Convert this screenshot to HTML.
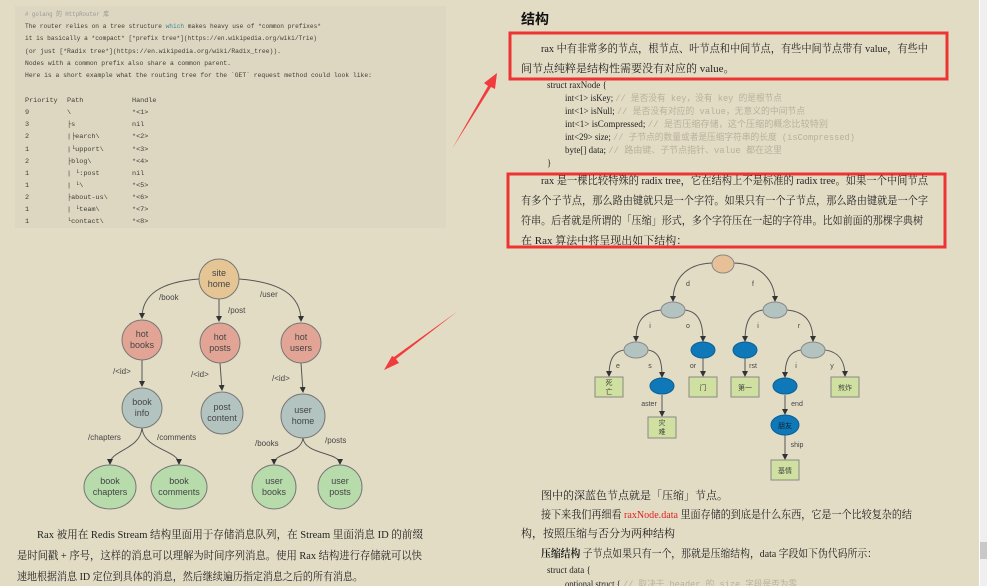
<!DOCTYPE html>
<html><head><meta charset="utf-8"><style>
body{margin:0;width:987px;height:586px;overflow:hidden;background:#e3dcc5;}
svg{display:block}
.m{font-family:"Liberation Mono","Noto Sans CJK SC",monospace;font-size:6.8px;fill:#3e3e38}
.s{font-family:"Liberation Serif","Noto Serif CJK SC",serif;font-size:11px;fill:#222}
.c{font-family:"Liberation Serif","Noto Serif CJK SC",serif;font-size:9px;fill:#222}
.g{font-family:"Liberation Mono","Noto Sans CJK SC",monospace;font-size:9px;fill:#b8b09a}
.n{font-family:"Liberation Sans","Noto Sans CJK SC",sans-serif;font-size:9px;fill:#444;text-anchor:middle}
.l{font-family:"Liberation Sans","Noto Sans CJK SC",sans-serif;font-size:8px;fill:#444}
.t{font-family:"Liberation Sans","Noto Sans CJK SC",sans-serif;font-size:7px;fill:#444}
</style></head><body>
<svg width="987" height="586" viewBox="0 0 987 586" xmlns="http://www.w3.org/2000/svg">
<defs><marker id="a" markerWidth="6" markerHeight="6" refX="5" refY="3" orient="auto"><path d="M0,0L6,3L0,6z" fill="#333"/></marker></defs>
<rect x="15" y="6" width="431" height="222" fill="#ddd6c0"/>
<g class="m">
<text x="25" y="16" fill="#999" textLength="84" lengthAdjust="spacingAndGlyphs">#  golang 的 HttpRouter 库</text>
<text x="25" y="28" textLength="296" lengthAdjust="spacingAndGlyphs">The router relies on a tree structure <tspan fill="#3a8a9a">which</tspan> makes heavy use of *common prefixes*</text>
<text x="25" y="40" textLength="292" lengthAdjust="spacingAndGlyphs">it is basically a *compact* [*prefix tree*](https://en.wikipedia.org/wiki/Trie)</text>
<text x="25" y="53" textLength="256" lengthAdjust="spacingAndGlyphs">(or just [*Radix tree*](https://en.wikipedia.org/wiki/Radix_tree)).</text>
<text x="25" y="65" textLength="206" lengthAdjust="spacingAndGlyphs">Nodes with a common prefix also share a common parent.</text>
<text x="25" y="77" textLength="347" lengthAdjust="spacingAndGlyphs">Here is a short example what the routing tree for the `GET` request method could look like:</text>
<text x="25" y="102">Priority</text><text x="67" y="102">Path</text><text x="132" y="102">Handle</text>
<text x="25" y="114">9</text><text x="67" y="114">\</text><text x="132" y="114">*&lt;1&gt;</text>
<text x="25" y="126">3</text><text x="67" y="126">├s</text><text x="132" y="126">nil</text>
<text x="25" y="138">2</text><text x="67" y="138">|├earch\</text><text x="132" y="138">*&lt;2&gt;</text>
<text x="25" y="151">1</text><text x="67" y="151">|└upport\</text><text x="132" y="151">*&lt;3&gt;</text>
<text x="25" y="163">2</text><text x="67" y="163">├blog\</text><text x="132" y="163">*&lt;4&gt;</text>
<text x="25" y="175">1</text><text x="67" y="175">|    └:post</text><text x="132" y="175">nil</text>
<text x="25" y="187">1</text><text x="67" y="187">|         └\</text><text x="132" y="187">*&lt;5&gt;</text>
<text x="25" y="199">2</text><text x="67" y="199">├about-us\</text><text x="132" y="199">*&lt;6&gt;</text>
<text x="25" y="211">1</text><text x="67" y="211">|        └team\</text><text x="132" y="211">*&lt;7&gt;</text>
<text x="25" y="223">1</text><text x="67" y="223">└contact\</text><text x="132" y="223">*&lt;8&gt;</text>
</g>
<!-- left tree -->
<g fill="none" stroke="#555" stroke-width="1" marker-end="url(#a)">
<path d="M199,279 C160,282 142,295 142,318"/>
<path d="M219,299 L219,321"/>
<path d="M239,279 C280,282 301,295 301,321"/>
<path d="M142,360 L142,386"/>
<path d="M220,363 L222,390"/>
<path d="M301,363 L303,392"/>
<path d="M142,428 C140,450 110,450 110,464"/>
<path d="M142,428 C144,450 179,450 179,464"/>
<path d="M303,438 C301,455 274,452 274,464"/>
<path d="M303,438 C305,455 340,452 340,464"/>
</g>
<g stroke="#777" stroke-width="1">
<circle cx="219" cy="279" r="20" fill="#e6c594"/>
<circle cx="142" cy="340" r="20" fill="#e2a595"/>
<circle cx="220" cy="343" r="20" fill="#e2a595"/>
<circle cx="301" cy="343" r="20" fill="#e2a595"/>
<circle cx="142" cy="408" r="20" fill="#b3c3c0"/>
<circle cx="222" cy="413" r="21" fill="#b3c3c0"/>
<circle cx="303" cy="416" r="22" fill="#b3c3c0"/>
<ellipse cx="110" cy="487" rx="26" ry="22" fill="#b7dbab"/>
<ellipse cx="179" cy="487" rx="28" ry="22" fill="#b7dbab"/>
<ellipse cx="274" cy="487" rx="22" ry="22" fill="#b7dbab"/>
<ellipse cx="340" cy="487" rx="22" ry="22" fill="#b7dbab"/>
</g>
<g class="n">
<text x="219" y="276">site</text><text x="219" y="287">home</text>
<text x="142" y="337">hot</text><text x="142" y="348">books</text>
<text x="220" y="340">hot</text><text x="220" y="351">posts</text>
<text x="301" y="340">hot</text><text x="301" y="351">users</text>
<text x="142" y="405">book</text><text x="142" y="416">info</text>
<text x="222" y="410">post</text><text x="222" y="421">content</text>
<text x="303" y="413">user</text><text x="303" y="424">home</text>
<text x="110" y="484">book</text><text x="110" y="495">chapters</text>
<text x="179" y="484">book</text><text x="179" y="495">comments</text>
<text x="274" y="484">user</text><text x="274" y="495">books</text>
<text x="340" y="484">user</text><text x="340" y="495">posts</text>
</g>
<g class="l">
<text x="159" y="300">/book</text><text x="228" y="313">/post</text><text x="260" y="297">/user</text>
<text x="113" y="374">/&lt;id&gt;</text><text x="191" y="377">/&lt;id&gt;</text><text x="272" y="381">/&lt;id&gt;</text>
<text x="88" y="440">/chapters</text><text x="157" y="440">/comments</text>
<text x="255" y="446">/books</text><text x="325" y="443">/posts</text>
</g>
<!-- red arrows -->
<path d="M452,149 L488,86 L484,83 L497,73 L495,89 L491,87 Z" fill="#f03c3c"/>
<path d="M458,311 L396,359 L399,363 L384,370 L392,356 L394,357 Z" fill="#f03c3c"/>
<!-- right text -->
<text x="521" y="24" style="font-family:'Liberation Sans','Noto Sans CJK SC',sans-serif;font-size:14px;font-weight:bold" fill="#111">结构</text>
<rect x="510" y="33" width="437" height="46" fill="none" stroke="#ee3333" stroke-width="3"/>
<text class="s" x="541" y="52" textLength="387" lengthAdjust="spacingAndGlyphs">rax 中有非常多的节点，根节点、叶节点和中间节点，有些中间节点带有 value，有些中</text>
<text class="s" x="521" y="72">间节点纯粹是结构性需要没有对应的 value。</text>
<text class="c" x="547" y="88">struct raxNode {</text>
<text class="c" x="565" y="101" textLength="217" lengthAdjust="spacingAndGlyphs">int&lt;1&gt; isKey;   <tspan class="g">// 是否没有 key，没有 key 的是根节点</tspan></text>
<text class="c" x="565" y="114" textLength="240" lengthAdjust="spacingAndGlyphs">int&lt;1&gt; isNull;   <tspan class="g">// 是否没有对应的 value，无意义的中间节点</tspan></text>
<text class="c" x="565" y="127" textLength="263" lengthAdjust="spacingAndGlyphs">int&lt;1&gt; isCompressed;    <tspan class="g">// 是否压缩存储，这个压缩的概念比较特别</tspan></text>
<text class="c" x="565" y="140" textLength="290" lengthAdjust="spacingAndGlyphs">int&lt;29&gt; size;    <tspan class="g">// 子节点的数量或者是压缩字符串的长度 (isCompressed)</tspan></text>
<text class="c" x="565" y="153" textLength="217" lengthAdjust="spacingAndGlyphs">byte[] data;    <tspan class="g">// 路由键、子节点指针、value 都在这里</tspan></text>
<text class="c" x="547" y="166">}</text>
<rect x="508" y="174" width="437" height="73" fill="none" stroke="#ee3333" stroke-width="3"/>
<text class="s" x="541" y="184" textLength="387" lengthAdjust="spacingAndGlyphs">rax 是一棵比较特殊的 radix tree，它在结构上不是标准的 radix tree。如果一个中间节点</text>
<text class="s" x="521" y="204" textLength="407" lengthAdjust="spacingAndGlyphs">有多个子节点，那么路由键就只是一个字符。如果只有一个子节点，那么路由键就是一个字</text>
<text class="s" x="521" y="224" textLength="402" lengthAdjust="spacingAndGlyphs">符串。后者就是所谓的「压缩」形式，多个字符压在一起的字符串。比如前面的那棵字典树</text>
<text class="s" x="521" y="244">在 Rax 算法中将呈现出如下结构：</text>
<!-- right tree -->
<g fill="none" stroke="#555" stroke-width="1" marker-end="url(#a)">
<path d="M712,263 C685,264 673,280 673,301"/>
<path d="M734,263 C760,264 775,280 775,301"/>
<path d="M661,310 C640,312 636,325 636,341"/>
<path d="M685,310 C700,312 703,325 703,341"/>
<path d="M763,310 C748,312 745,325 745,341"/>
<path d="M787,310 C808,312 813,325 813,341"/>
<path d="M624,350 C612,352 609,362 609,376"/>
<path d="M648,350 C660,352 662,362 662,377"/>
<path d="M703,358 L703,376"/>
<path d="M745,358 L745,376"/>
<path d="M801,350 C788,352 785,362 785,377"/>
<path d="M825,350 C840,352 845,362 845,376"/>
<path d="M662,395 L662,416"/>
<path d="M785,395 L785,414"/>
<path d="M785,435 L785,459"/>
</g>
<g stroke="#888" stroke-width="1">
<ellipse cx="723" cy="264" rx="11" ry="9" fill="#e8c097"/>
<ellipse cx="673" cy="310" rx="12" ry="8" fill="#b3c3c0"/>
<ellipse cx="775" cy="310" rx="12" ry="8" fill="#b3c3c0"/>
<ellipse cx="636" cy="350" rx="12" ry="8" fill="#b3c3c0"/>
<ellipse cx="813" cy="350" rx="12" ry="8" fill="#b3c3c0"/>
<rect x="595" y="377" width="28" height="20" fill="#cfe0a0"/>
<rect x="648" y="417" width="28" height="21" fill="#cfe0a0"/>
<rect x="689" y="377" width="28" height="20" fill="#cfe0a0"/>
<rect x="731" y="377" width="28" height="20" fill="#cfe0a0"/>
<rect x="831" y="377" width="28" height="20" fill="#cfe0a0"/>
<rect x="771" y="460" width="28" height="20" fill="#cfe0a0"/>
</g>
<g fill="#0f78b8" stroke="#0a5f95">
<ellipse cx="703" cy="350" rx="12" ry="8"/>
<ellipse cx="745" cy="350" rx="12" ry="8"/>
<ellipse cx="662" cy="386" rx="12" ry="8"/>
<ellipse cx="785" cy="386" rx="12" ry="8"/>
<ellipse cx="785" cy="425" rx="14" ry="10"/>
</g>
<g class="t" text-anchor="middle">
<text x="609" y="385">死</text><text x="609" y="394">亡</text>
<text x="662" y="425">灾</text><text x="662" y="434">难</text>
<text x="703" y="390">门</text><text x="745" y="390">第一</text><text x="845" y="390">煎炸</text>
<text x="785" y="428" fill="#123">朋友</text><text x="785" y="473">基情</text>
<text x="688" y="286">d</text><text x="753" y="286">f</text>
<text x="650" y="328">i</text><text x="688" y="328">o</text><text x="758" y="328">i</text><text x="799" y="328">r</text>
<text x="618" y="368">e</text><text x="650" y="368">s</text><text x="693" y="368">or</text><text x="753" y="368">rst</text><text x="796" y="368">i</text><text x="832" y="368">y</text>
<text x="649" y="406">aster</text><text x="797" y="406">end</text><text x="797" y="447">ship</text>
</g>
<text class="s" x="541" y="499">图中的深蓝色节点就是「压缩」节点。</text>
<text class="s" x="541" y="518" textLength="371" lengthAdjust="spacingAndGlyphs">接下来我们再细看 <tspan fill="#e02020">raxNode.data</tspan> 里面存储的到底是什么东西，它是一个比较复杂的结</text>
<text class="s" x="521" y="537">构，按照压缩与否分为两种结构</text>
<text class="s" x="541" y="557" textLength="336" lengthAdjust="spacingAndGlyphs"><tspan font-weight="bold">压缩结构</tspan>  子节点如果只有一个，那就是压缩结构，data 字段如下伪代码所示：</text>
<text class="c" x="547" y="573">struct data {</text>
<text class="c" x="565" y="587" textLength="232" lengthAdjust="spacingAndGlyphs">optional struct {    <tspan class="g">// 取决于 header 的 size 字段是否为零</tspan></text>
<!-- bottom left -->
<text class="s" x="37" y="538" textLength="386" lengthAdjust="spacingAndGlyphs">Rax 被用在 Redis Stream 结构里面用于存储消息队列，在 Stream 里面消息 ID 的前缀</text>
<text class="s" x="17" y="559" textLength="405" lengthAdjust="spacingAndGlyphs">是时间戳 + 序号，这样的消息可以理解为时间序列消息。使用 Rax 结构进行存储就可以快</text>
<text class="s" x="17" y="580" textLength="346" lengthAdjust="spacingAndGlyphs">速地根据消息 ID 定位到具体的消息，然后继续遍历指定消息之后的所有消息。</text>
<!-- scrollbar -->
<rect x="979" y="0" width="8" height="586" fill="#efefef"/>
<rect x="979" y="0" width="1" height="586" fill="#fff"/>
<rect x="980" y="542" width="7" height="17" fill="#c8c8c8"/>
</svg>
</body></html>
